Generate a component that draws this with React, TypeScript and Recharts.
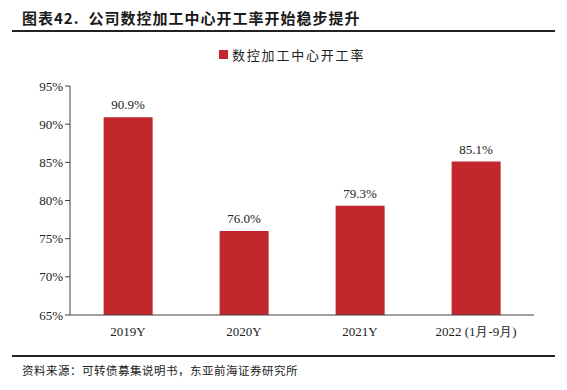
import { Bar, BarChart, LabelList, XAxis, YAxis } from "recharts";

const categories = ["2019Y", "2020Y", "2021Y", "2022 (1月-9月)"];
const utilization = [90.9, 76.0, 79.3, 85.1];
const yTicks = [65, 70, 75, 80, 85, 90, 95];

const seriesName = "数控加工中心开工率";
const barColor = "#C1272D";
const cjk = '"Noto Sans CJK SC", "Noto Sans", sans-serif';
const serif = '"Liberation Serif", "Times New Roman", serif';

const data = categories.map((name, i) => ({ name, value: utilization[i] }));

export default function App() {
  return (
    <div
      style={{
        position: "absolute",
        left: 0,
        top: 0,
        width: 567,
        height: 390,
        background: "#fff",
        overflow: "hidden",
      }}
    >
      <div
        style={{
          position: "absolute",
          left: 22,
          top: 7,
          fontFamily: cjk,
          fontWeight: 700,
          fontSize: 15,
          letterSpacing: 1,
          color: "#1a1a1a",
          whiteSpace: "pre",
        }}
      >
        图表42.  公司数控加工中心开工率开始稳步提升
      </div>
      <div
        style={{
          position: "absolute",
          left: 12,
          top: 30,
          width: 543,
          height: 2,
          background: "#222",
        }}
      />
      {/* legend */}
      <div
        style={{
          position: "absolute",
          left: 219,
          top: 45,
          display: "flex",
          alignItems: "center",
          fontFamily: cjk,
          fontSize: 13,
          color: "#222",
          letterSpacing: 1.8,
          whiteSpace: "nowrap",
        }}
      >
        <span
          style={{
            display: "inline-block",
            width: 9,
            height: 9,
            background: barColor,
            marginRight: 4,
          }}
        />
        {seriesName}
      </div>
      <div style={{ position: "absolute", left: 0, top: 0 }}>
        <BarChart
          width={567}
          height={390}
          data={data}
          margin={{ top: 86, right: 33, bottom: 45, left: 10 }}
          barCategoryGap="29%"
        >
          <XAxis
            dataKey="name"
            height={30}
            axisLine={{ stroke: "#404040", strokeWidth: 1 }}
            tickLine={false}
            tick={{ fontFamily: serif, fontSize: 13, fill: "#222" }}
            tickMargin={6}
          />
          <YAxis
            width={60}
            domain={[65, 95]}
            ticks={yTicks}
            interval={0}
            tickFormatter={(v: number) => `${v}%`}
            axisLine={{ stroke: "#404040", strokeWidth: 1 }}
            tickLine={{ stroke: "#404040" }}
            tickSize={5}
            tick={{ fontFamily: serif, fontSize: 13, fill: "#222" }}
          />
          <Bar dataKey="value" fill={barColor} isAnimationActive={false}>
            <LabelList
              dataKey="value"
              position="top"
              offset={8}
              formatter={(v: number) => `${v.toFixed(1)}%`}
              style={{ fontFamily: serif, fontSize: 13, fill: "#222" }}
            />
          </Bar>
        </BarChart>
      </div>
      <div
        style={{
          position: "absolute",
          left: 12,
          top: 355,
          width: 543,
          height: 2,
          background: "#222",
        }}
      />
      <div
        style={{
          position: "absolute",
          left: 22,
          top: 362,
          fontFamily: cjk,
          fontSize: 11.5,
          letterSpacing: 0.5,
          color: "#222",
          whiteSpace: "nowrap",
        }}
      >
        资料来源：可转债募集说明书，东亚前海证券研究所
      </div>
    </div>
  );
}
